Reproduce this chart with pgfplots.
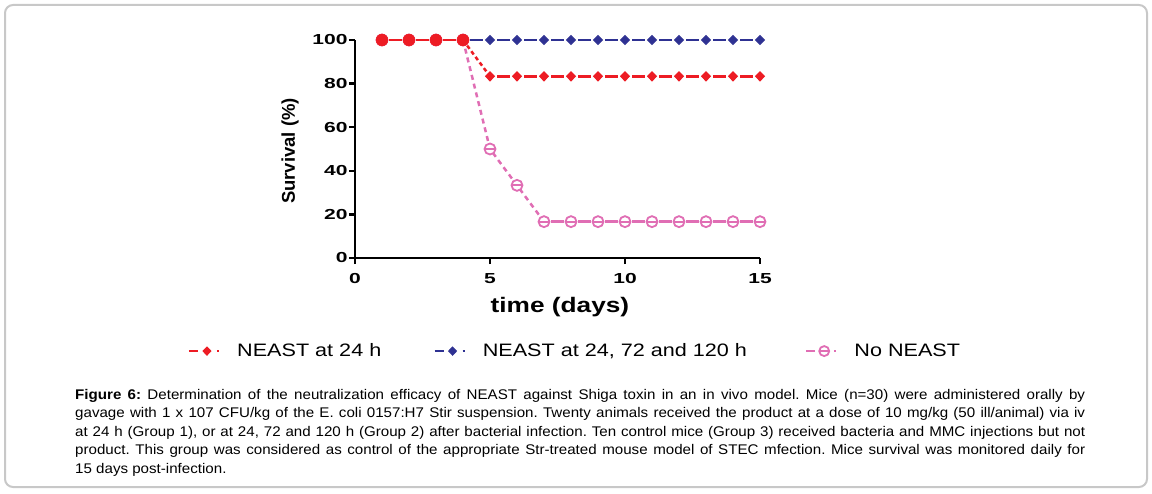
\documentclass[border=0pt]{standalone}
\usepackage{pgfplots}
\pgfplotsset{compat=1.18}
\usepackage{fontspec}
\setmainfont{Liberation Sans}
\newfontfamily\tickfont[FakeStretch=1.45]{Liberation Sans}
\newfontfamily\legfont[FakeStretch=1.2]{Liberation Sans}
\newfontfamily\xlabfont[FakeStretch=1.25]{Liberation Sans}
\newfontfamily\capfont[FakeStretch=1.08]{Liberation Sans}
\definecolor{cred}{RGB}{237,28,36}
\definecolor{cblue}{RGB}{46,49,146}
\definecolor{cpink}{RGB}{224,110,180}
\definecolor{cborder}{RGB}{200,200,200}
\pgfdeclareplotmark{thetao}{%
  \pgfpathcircle{\pgfpointorigin}{\pgfplotmarksize}%
  \pgfusepathqfillstroke
  \pgfpathmoveto{\pgfqpoint{-\pgfplotmarksize}{0pt}}%
  \pgfpathlineto{\pgfqpoint{\pgfplotmarksize}{0pt}}%
  \pgfusepathqstroke}
\begin{document}
\begin{tikzpicture}
\useasboundingbox (0,0) rectangle (1152pt,493pt);
\draw[cborder, line width=2pt, rounded corners=8pt] (5pt,6pt) rectangle (1147pt,488pt);
\begin{axis}[
  at={(355pt,235pt)}, anchor=south west,
  scale only axis, width=405pt, height=218pt,
  xmin=0, xmax=15, ymin=0, ymax=100,
  axis x line*=bottom, axis y line*=left,
  axis line style={line width=2.5pt, black, -},
  xtick={0,5,10,15}, ytick={0,20,40,60,80,100},
  tick align=outside, major tick length=6pt,
  every tick/.style={black, line width=2.5pt},
  minor tick num=0,
  clip=false,
  /pgf/number format/assume math mode=true,
  tick label style={font=\tickfont\bfseries\fontsize{14.5}{14.5}\selectfont},
  xticklabel style={yshift=-6pt},
  yticklabel style={xshift=2pt},
  xlabel={time (days)}, ylabel={Survival (\%)},
  every axis x label/.style={at={(axis description cs:0.506,-0.252)}, anchor=base, font=\xlabfont\bfseries\fontsize{21}{21}\selectfont},
  every axis y label/.style={at={(axis description cs:-0.1605,0.491)}, rotate=90, anchor=center, font=\bfseries\fontsize{18.5}{18.5}\selectfont},
  legend columns=3,
  legend style={at={(axis description cs:0.543,-0.427)}, anchor=center, draw=none, fill=none,
    font=\legfont\fontsize{18}{18}\selectfont,
    /tikz/every odd column/.style={column sep=15pt},
    /tikz/column 2/.style={column sep=50pt},
    /tikz/column 4/.style={column sep=56pt},
    /tikz/column 5/.style={column sep=28pt}},
  legend image code/.code={
    \draw[#1, solid] (0pt,0pt) -- (9pt,0pt);
    \draw[#1, solid] (28pt,0pt) -- (30pt,0pt);
    \draw[#1, only marks] plot coordinates {(18pt,0pt)};
  },
]
% blue: NEAST at 24, 72 and 120 h
\addplot[forget plot, cblue, line width=2pt, dash pattern=on 13pt off 14pt, dash phase=20pt,
  mark=diamond*, mark size=4.5pt, mark options={solid, fill=cblue, line width=1pt, xscale=1.3}]
  coordinates {(1,100)(2,100)(3,100)(4,100)(5,100)(6,100)(7,100)(8,100)(9,100)(10,100)(11,100)(12,100)(13,100)(14,100)(15,100)};
% pink: No NEAST
\addplot[forget plot, cpink, line width=2.5pt, dash pattern=on 5pt off 4pt, no marks]
  coordinates {(4,100)(5,50)(6,33.33)(7,16.67)};
\addplot[forget plot, cpink, line width=2.5pt, dash pattern=on 13pt off 14pt, dash phase=20pt,
  mark=thetao, mark size=5.5pt, mark options={solid, fill=white, draw=cpink, line width=1.8pt}]
  coordinates {(1,100)(2,100)(3,100)(4,100)};
\addplot[forget plot, cpink, only marks,
  mark=thetao, mark size=5.5pt, mark options={solid, fill=white, draw=cpink, line width=1.8pt}]
  coordinates {(5,50)(6,33.33)};
\addplot[forget plot, cpink, line width=2.5pt, dash pattern=on 13pt off 14pt, dash phase=20pt,
  mark=thetao, mark size=5.5pt, mark options={solid, fill=white, draw=cpink, line width=1.8pt}]
  coordinates {(7,16.67)(8,16.67)(9,16.67)(10,16.67)(11,16.67)(12,16.67)(13,16.67)(14,16.67)(15,16.67)};
% red: NEAST at 24 h
\addplot[forget plot, cred, line width=2.5pt, dash pattern=on 4pt off 3pt, no marks]
  coordinates {(4,100)(5,83.33)};
\addplot[forget plot, cred, line width=2.5pt, dash pattern=on 13pt off 14pt, dash phase=20pt,
  mark=diamond*, mark size=4.5pt, mark options={solid, fill=cred, line width=1pt, xscale=1.3}]
  coordinates {(5,83.33)(6,83.33)(7,83.33)(8,83.33)(9,83.33)(10,83.33)(11,83.33)(12,83.33)(13,83.33)(14,83.33)(15,83.33)};
\addplot[forget plot, cred, line width=2.5pt, dash pattern=on 13pt off 14pt, dash phase=20pt,
  mark=*, mark size=6pt, mark options={solid, fill=cred, draw=cred, line width=0.5pt}]
  coordinates {(1,100)(2,100)(3,100)(4,100)};
% legend
\addlegendimage{cred, line width=2.5pt, mark=diamond*, mark size=4pt, mark options={solid, fill=cred, line width=1pt, xscale=1.3}}
\addlegendentry{NEAST at 24 h}
\addlegendimage{cblue, line width=2.5pt, mark=diamond*, mark size=4pt, mark options={solid, fill=cblue, line width=1pt, xscale=1.3}}
\addlegendentry{NEAST at 24, 72 and 120 h}
\addlegendimage{cpink, line width=2.5pt, mark=thetao, mark size=5pt, mark options={solid, fill=white, draw=cpink, line width=1.8pt}}
\addlegendentry{No NEAST}
\end{axis}
\begin{scope}[every node/.style={anchor=base west, inner sep=0pt, font=\capfont\fontsize{14}{18.5}\selectfont}]
\node at (75pt,93.5pt) {\frenchspacing\makebox[1010pt][s]{\textbf{Figure 6:} Determination of the neutralization efficacy of NEAST against Shiga toxin in an in vivo model. Mice (n=30) were administered orally by}};
\node at (75pt,75pt) {\frenchspacing\makebox[1010pt][s]{gavage with 1 x 107 CFU/kg of the E. coli 0157:H7 Stir suspension. Twenty animals received the product at a dose of 10 mg/kg (50 ill/animal) via iv}};
\node at (75pt,56.5pt) {\frenchspacing\makebox[1010pt][s]{at 24 h (Group 1), or at 24, 72 and 120 h (Group 2) after bacterial infection. Ten control mice (Group 3) received bacteria and MMC injections but not}};
\node at (75pt,38pt) {\frenchspacing\makebox[1010pt][s]{product. This group was considered as control of the appropriate Str-treated mouse model of STEC mfection. Mice survival was monitored daily for}};
\node at (75pt,19.5pt) {\frenchspacing 15 days post-infection.};
\end{scope}
\end{tikzpicture}
\end{document}
